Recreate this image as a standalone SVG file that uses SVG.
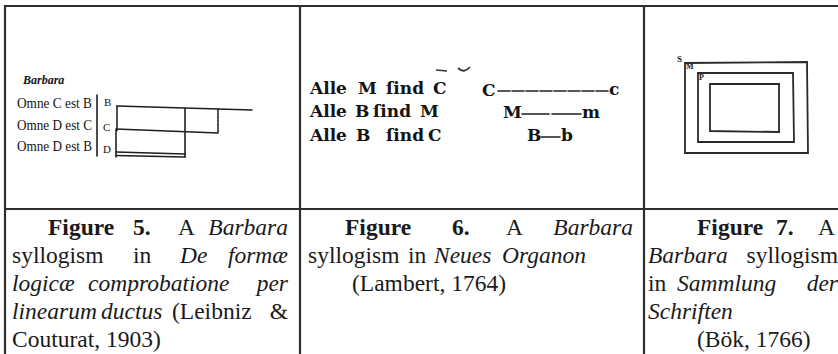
<svg xmlns="http://www.w3.org/2000/svg" width="838" height="354" viewBox="0 0 838 354">
  <style>
    .grid { stroke: #2e2e2e; stroke-width: 2.2; fill: none; }
    .cap { font-family: "Liberation Serif", serif; font-size: 23.5px; fill: #1a1a1a; }
    .b { font-weight: bold; }
    .i { font-style: italic; }
    .ink { stroke: #1e1e1e; stroke-width: 1.6; fill: none; stroke-linecap: round; }
    .ink7 { stroke: #2a2a2a; stroke-width: 1.8; fill: none; }
    .scan { font-family: "Liberation Serif", serif; fill: #141414; }
    .frak { font-family: "DejaVu Serif", serif; font-weight: bold; font-size: 17px; fill: #141414; }
  </style>

  <rect width="838" height="354" fill="#ffffff"/>

  <!-- table grid -->
  <g id="table-grid" class="grid">
    <line x1="4" y1="6" x2="838" y2="6"/>
    <line x1="5" y1="5" x2="5" y2="354"/>
    <line x1="300" y1="5" x2="300" y2="354"/>
    <line x1="644" y1="5" x2="644" y2="354"/>
    <line x1="4" y1="209" x2="838" y2="209"/>
  </g>

  <!-- Figure 5: Leibniz line diagram -->
  <g id="fig5">
    <text class="scan" x="23" y="84" font-size="12" font-weight="bold" font-style="italic">Barbara</text>
    <text class="scan" x="17" y="108" font-size="14.5" textLength="75" lengthAdjust="spacingAndGlyphs">Omne C est B</text>
    <text class="scan" x="17" y="130" font-size="14.5" textLength="75" lengthAdjust="spacingAndGlyphs">Omne D est C</text>
    <text class="scan" x="17" y="151" font-size="14.5" textLength="75" lengthAdjust="spacingAndGlyphs">Omne D est B</text>
    <line class="ink" x1="97" y1="95" x2="97" y2="156" stroke-width="1.2"/>
    <text class="scan" x="104" y="106" font-size="11">B</text>
    <text class="scan" x="103" y="131" font-size="11">C</text>
    <text class="scan" x="103" y="153" font-size="11">D</text>
    <g id="fig5-lines">
      <path class="ink" d="M117 106 L252 110"/>
      <path class="ink" d="M117 106 L117 131 M116 130 L116 157" stroke-dasharray="2 0.8"/>
      <path class="ink" d="M185 108 L185 157"/>
      <path class="ink" d="M218 109 L218 132" stroke-dasharray="2.5 1"/>
      <path class="ink" d="M116 129 L218 133"/>
      <path class="ink" d="M116 152 L185 154 M116 155.5 L185 157"/>
    </g>
  </g>

  <!-- Figure 6: Lambert line diagram -->
  <g id="fig6">
    <path d="M436 70 L447 71" stroke="#333" stroke-width="1.5" fill="none"/>
    <path d="M458 68 Q464 74 470 67" stroke="#333" stroke-width="1.8" fill="none"/>
    <text class="frak"><tspan x="310" y="94">Alle</tspan><tspan x="358" y="94">M</tspan><tspan x="386" y="94">ſind</tspan><tspan x="433" y="94">C</tspan></text>
    <text class="frak"><tspan x="310" y="117">Alle</tspan><tspan x="355" y="117">B</tspan><tspan x="373" y="117">ſind</tspan><tspan x="420" y="117">M</tspan></text>
    <text class="frak"><tspan x="310" y="141">Alle</tspan><tspan x="356" y="141">B</tspan><tspan x="386" y="141">ſind</tspan><tspan x="428" y="141">C</tspan></text>
    <text class="frak" x="482" y="96">C</text>
    <path class="ink" d="M498 91 L608 91" stroke-width="2" stroke-dasharray="12 2"/>
    <text class="frak" x="609" y="95" font-size="16">c</text>
    <text class="frak" x="503" y="118">M</text>
    <path class="ink" d="M522 114 L549 114 M552 114 L581 114" stroke-width="2"/>
    <text class="frak" x="582" y="118" font-size="16">m</text>
    <text class="frak" x="527" y="141">B</text>
    <path class="ink" d="M541 137 L560 137" stroke-width="2"/>
    <text class="frak" x="561" y="141" font-size="16">b</text>
  </g>

  <!-- Figure 7: Bök nested rectangles -->
  <g id="fig7">
    <text class="scan" x="677" y="62" font-size="9" font-weight="bold">S</text>
    <text class="scan" x="686" y="69" font-size="8" font-weight="bold">M</text>
    <text class="scan" x="699" y="80" font-size="8" font-weight="bold">P</text>
    <path class="ink7" d="M685 63 L807 62 L808 153 L685 153 Z" stroke-width="2"/>
    <path class="ink7" d="M698 73 L793 73 L794 142 L698 142 Z"/>
    <path class="ink7" d="M710 84 L779 84 L779 132 L710 131 Z"/>
  </g>

  <!-- Caption, figure 5 -->
  <g id="caption5" class="cap">
    <text y="235"><tspan x="48" class="b">Figure</tspan><tspan x="133" class="b">5.</tspan><tspan x="178">A</tspan><tspan x="288" text-anchor="end" class="i">Barbara</tspan></text>
    <text y="263"><tspan x="12">syllogism</tspan><tspan x="133">in</tspan><tspan x="180" class="i">De</tspan><tspan x="288" text-anchor="end" class="i">formæ</tspan></text>
    <text y="291" class="i"><tspan x="12">logicæ</tspan><tspan x="88">comprobatione</tspan><tspan x="288" text-anchor="end">per</tspan></text>
    <text y="319"><tspan x="12" class="i">linearum</tspan><tspan x="101" class="i">ductus</tspan><tspan x="172">(Leibniz</tspan><tspan x="288" text-anchor="end">&amp;</tspan></text>
    <text y="347" x="12">Couturat, 1903)</text>
  </g>

  <!-- Caption, figure 6 -->
  <g id="caption6" class="cap">
    <text y="235"><tspan x="345" class="b">Figure</tspan><tspan x="452" class="b">6.</tspan><tspan x="506">A</tspan><tspan x="633" text-anchor="end" class="i">Barbara</tspan></text>
    <text y="263"><tspan x="308">syllogism</tspan><tspan x="408">in</tspan><tspan x="434" class="i">Neues</tspan><tspan x="502" class="i">Organon</tspan></text>
    <text y="291" x="352">(Lambert, 1764)</text>
  </g>

  <!-- Caption, figure 7 -->
  <g id="caption7" class="cap">
    <text y="235"><tspan x="697" class="b">Figure</tspan><tspan x="776" class="b">7.</tspan><tspan x="818">A</tspan></text>
    <text y="263"><tspan x="648" class="i">Barbara</tspan><tspan x="838" text-anchor="end">syllogism</tspan></text>
    <text y="291"><tspan x="648">in</tspan><tspan x="677" class="i">Sammlung</tspan><tspan x="838" text-anchor="end" class="i">der</tspan></text>
    <text y="319" x="648" class="i">Schriften</text>
    <text y="347" x="697">(Bök, 1766)</text>
  </g>
</svg>
